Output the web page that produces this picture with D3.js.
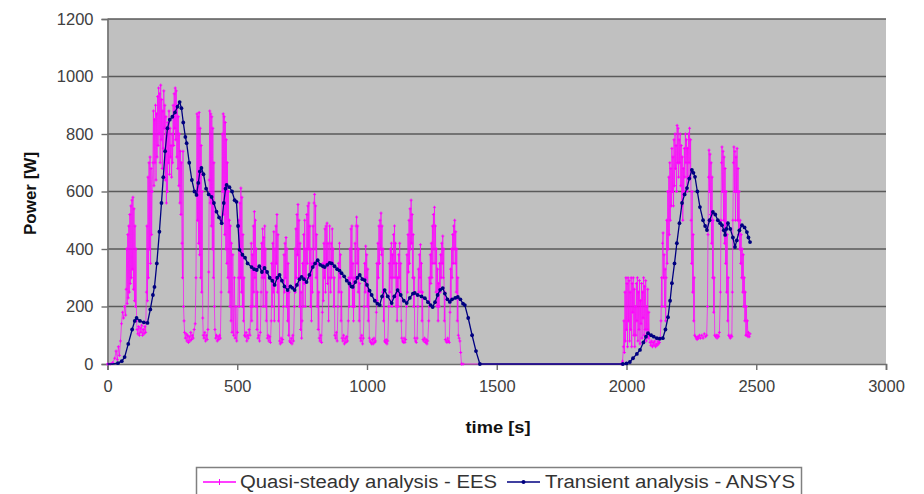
<!DOCTYPE html>
<html>
<head>
<meta charset="utf-8">
<script src="https://cdn.jsdelivr.net/npm/d3@7"></script>
<style>
  html, body { margin: 0; padding: 0; background: #ffffff; }
  svg { display: block; }
</style>
</head>
<body>
<svg id="chart" width="924" height="494"></svg>
<script>
// ---------------- DATA ----------------
const xTicks = [0, 500, 1000, 1500, 2000, 2500, 3000];
const yTicks = [0, 200, 400, 600, 800, 1000, 1200];
const xTitle = "time [s]";
const yTitle = "Power [W]";
const seriesNames = ["Quasi-steady analysis - EES", "Transient analysis - ANSYS"];

// Quasi-steady analysis - EES : [time s, power W]
const eesSeries = [
[0,0],[10,0],[20,5],[28,20],[33,45],[38,15],[42,60],[46,30],[50,80],[54,140],[58,180],[62,160],[66,200],[70,170],
[72,260],[74,400],[76,210],[78,450],[80,230],[82,480],[84,250],[86,520],[88,280],[90,550],[92,300],[94,570],[96,330],[98,580],[100,260],[102,540],[104,220],[106,480],[108,200],[110,400],[112,150],
[114,120],[117,105],[120,130],[123,100],[126,125],[129,110],[132,135],[135,100],[138,120],[141,105],[144,130],[147,110],
[150,250],[152,480],[154,220],[156,650],[158,300],[160,700],[162,400],[164,720],[166,350],[168,680],[170,450],[172,600],
[175,700],[177,880],[179,620],[181,850],[183,700],[185,900],[187,640],[189,870],[191,720],[193,930],[195,760],[197,960],[199,800],[201,940],[203,700],[205,970],[207,780],[209,920],[211,680],[213,880],[215,750],[217,950],[219,820],[221,900],[223,640],[225,860],[227,560],[229,800],[231,600],[233,840],[235,700],[237,880],[239,660],[241,820],[243,720],[245,760],[247,650],[249,800],[251,700],[253,900],[255,760],[257,940],[259,820],[261,960],[263,780],[265,950],[267,720],[269,900],[271,680],[273,860],[275,620],[277,800],[279,560],[281,740],[283,520],[285,700],
[287,420],[289,300],[291,740],[293,200],[295,150],[297,110],[300,90],
[303,105],[306,80],[309,100],[312,75],[315,95],[318,80],[321,110],[324,85],[327,100],[330,90],[334,120],[338,140],
[341,300],[343,600],[345,870],[347,500],[349,860],[351,420],[353,875],[355,380],[357,820],[359,300],[361,760],[363,250],[365,600],[367,160],[369,100],
[372,90],[375,110],[378,80],[381,100],[384,85],[387,120],
[390,320],[392,640],[394,880],[396,560],[398,870],[400,480],[402,860],[404,400],[406,820],[408,300],[410,700],[412,200],[414,120],
[417,90],[420,100],[423,80],[426,95],[429,85],[432,100],[435,90],
[438,250],[440,500],[442,800],[444,600],[446,870],[448,520],[450,860],[452,450],[454,840],[456,400],[458,780],[460,350],[462,700],[464,300],[466,600],[468,250],[470,500],
[472,200],[474,480],[476,150],[478,420],[480,110],[483,380],[486,100],[489,300],[492,90],[495,200],[498,80],[501,110],
[504,300],[506,500],[508,200],[510,560],[512,300],[514,612],[516,250],[518,580],[520,200],[522,450],[524,150],[526,300],[528,100],
[531,95],[534,110],[537,80],[540,100],[543,90],[546,120],[549,100],
[552,200],[554,420],[556,150],[558,380],[560,200],[562,480],[564,250],[566,530],[568,300],[570,500],[572,200],[574,400],[576,120],[578,250],[580,90],
[583,100],[586,80],[589,110],
[592,250],[594,420],[596,300],[598,470],[600,200],[602,440],[604,300],[606,480],[608,200],[610,400],[612,150],[614,250],[616,90],
[619,100],[622,80],[625,95],[628,75],
[631,150],[633,350],[635,200],[637,420],[639,250],[641,460],[643,150],[645,400],[647,300],[649,480],[651,350],[653,520],[655,250],[657,450],[659,150],[661,300],[663,80],
[666,70],[669,90],[672,75],[675,85],
[678,200],[680,380],[682,250],[684,420],[686,300],[688,440],[690,200],[692,400],[694,150],[696,350],[698,100],[700,250],[702,80],
[705,75],[708,90],[711,70],[714,100],[717,80],
[720,200],[722,400],[724,250],[726,470],[728,300],[730,520],[732,380],[734,555],[736,300],[738,500],[740,200],[742,420],[744,120],[746,250],[748,90],
[750,150],[752,350],[754,200],[756,450],[758,280],[760,500],[762,200],[764,400],[766,300],[768,520],[770,350],[772,550],[774,400],[776,560],[778,300],[780,480],[782,200],[784,400],[786,150],[788,350],[790,250],[792,480],[794,350],[796,560],[798,590],[800,400],[802,550],[804,300],[806,450],[808,200],[810,350],[812,120],[814,250],[816,90],
[819,80],[822,100],[825,75],
[828,180],[830,350],[832,220],[834,420],[836,300],[838,470],[840,250],[842,480],[844,350],[846,490],[848,280],[850,420],[852,150],[854,300],[856,480],[858,350],[860,250],[862,420],[864,300],[866,470],[868,350],[870,400],[872,200],[874,300],[876,100],
[879,90],[882,110],[885,80],
[888,200],[890,350],[892,250],[894,420],[896,300],[898,380],[900,150],[902,250],[904,90],
[907,80],[910,100],[913,70],[916,90],[919,75],[922,95],[925,80],
[928,150],[930,300],[932,200],[934,400],[936,280],[938,470],[940,300],[942,480],[944,200],[946,350],[948,150],[950,300],[952,200],[954,420],[956,300],[958,480],[960,511],[962,350],[964,480],[966,250],[968,400],[970,150],[972,280],[974,90],
[977,80],[980,100],[983,70],[986,90],
[989,200],[991,350],[993,250],[995,410],[997,300],[999,380],[1001,200],[1003,330],[1005,150],[1007,250],[1009,90],[1012,80],[1015,75],
[1018,70],[1021,85],[1024,70],[1027,90],[1030,75],[1033,80],
[1036,180],[1038,350],[1040,220],[1042,420],[1044,300],[1046,480],[1048,350],[1050,500],[1052,400],[1054,525],[1056,380],[1058,480],[1060,250],[1062,400],[1064,150],[1066,250],[1068,80],
[1071,75],[1074,85],[1077,70],[1080,80],
[1084,200],[1086,350],[1088,250],[1090,400],[1092,300],[1094,420],[1096,200],[1098,380],[1100,300],[1102,450],[1104,350],[1106,480],[1108,300],[1110,420],[1112,200],[1114,350],[1116,150],[1118,300],[1120,200],[1122,380],[1124,300],[1126,420],[1128,250],[1130,350],[1132,150],[1134,90],
[1137,80],[1140,75],[1143,90],[1146,75],[1149,85],
[1152,200],[1154,380],[1156,250],[1158,450],[1160,320],[1162,500],[1164,350],[1166,540],[1168,400],[1170,570],[1172,420],[1174,520],[1176,300],[1178,450],[1180,200],[1182,300],[1184,90],
[1187,80],[1190,75],[1193,90],
[1196,200],[1198,330],[1200,250],[1202,380],[1204,300],[1206,415],[1208,250],[1210,350],[1212,150],[1214,250],[1216,85],
[1219,80],[1222,90],[1225,75],[1228,85],[1231,70],[1234,80],
[1238,150],[1240,300],[1242,200],[1244,380],[1246,280],[1248,420],[1250,300],[1252,480],[1254,350],[1256,520],[1258,400],[1260,545],[1262,350],[1264,480],[1266,250],[1268,400],[1270,200],[1272,330],[1274,150],[1276,280],[1278,200],[1280,350],[1282,250],[1284,380],[1286,300],[1288,420],[1290,350],[1292,445],[1294,300],[1296,400],[1298,150],[1300,250],[1302,85],
[1305,80],[1308,75],[1311,90],[1314,80],[1317,75],
[1320,180],[1322,330],[1324,220],[1326,400],[1328,300],[1330,450],[1332,350],[1334,480],[1336,400],[1338,500],[1340,350],[1342,460],[1344,250],[1346,400],[1348,150],[1350,300],[1352,100],[1355,90],[1358,80],[1361,40],[1364,0],
[1370,0],[1980,0],
[1985,10],[1988,60],[1990,150],[1992,40],[1994,250],[1996,80],[1998,300],[2000,120],[2002,280],[2004,60],[2006,300],[2008,150],[2010,290],[2012,80],[2014,250],[2016,120],[2018,300],[2020,60],[2022,280],[2024,180],[2026,300],[2028,100],[2030,260],[2032,60],[2034,200],[2036,100],[2038,280],[2040,150],[2042,300],[2044,80],[2046,250],[2048,120],[2050,290],[2052,70],[2054,220],[2056,140],[2058,280],[2060,90],[2062,250],[2064,160],[2066,300],[2068,100],[2070,270],[2072,120],[2074,290],[2076,80],[2078,200],[2080,120],[2082,260],[2084,90],[2086,180],[2088,100],
[2091,75],[2094,65],[2097,80],[2100,60],[2103,75],[2106,65],[2109,80],[2112,60],[2115,70],[2118,65],[2121,80],[2124,70],[2127,75],[2130,90],
[2133,150],[2135,300],[2137,200],[2139,420],[2141,456],[2143,300],[2145,380],[2147,200],[2149,330],[2151,150],
[2153,300],[2155,500],[2157,350],[2159,600],[2161,400],[2163,650],[2165,450],[2167,700],[2169,500],[2171,680],[2173,550],[2175,750],[2177,600],[2179,720],[2181,550],[2183,780],[2185,620],[2187,800],[2189,680],[2191,760],[2193,600],[2195,830],[2197,700],[2199,820],[2201,650],[2203,780],[2205,700],[2207,800],[2209,620],[2211,760],[2213,550],[2215,720],[2217,500],[2219,680],[2221,600],[2223,750],[2225,650],[2227,800],[2229,700],[2231,780],[2233,600],[2235,750],[2237,650],[2239,800],[2241,700],[2243,820],[2245,650],[2247,780],[2249,500],
[2251,350],[2253,600],[2255,250],[2257,450],[2259,150],[2261,300],[2263,100],[2266,95],[2269,90],[2272,85],[2275,95],[2278,90],[2281,100],[2285,90],[2290,100],[2295,90],[2300,105],[2305,95],[2309,100],
[2312,200],[2314,450],[2316,650],[2318,744],[2320,600],[2322,730],[2324,520],[2326,700],[2328,420],[2330,650],[2332,300],[2334,500],[2336,180],[2338,300],[2340,100],
[2343,95],[2346,100],[2349,90],[2352,100],[2355,95],[2358,110],
[2362,250],[2364,500],[2366,700],[2368,755],[2370,600],[2372,740],[2374,500],[2376,720],[2378,420],[2380,680],[2382,350],[2384,600],[2386,250],[2388,450],[2390,150],[2392,300],[2394,100],
[2397,95],[2400,90],[2403,100],[2406,95],
[2408,250],[2410,500],[2412,700],[2414,755],[2416,600],[2418,740],[2420,500],[2422,720],[2424,600],[2426,750],[2428,500],[2430,680],[2432,450],[2434,600],[2436,400],[2438,500],[2440,350],[2442,450],[2444,300],[2446,400],[2448,250],[2450,380],[2452,200],[2454,300],[2456,150],[2458,250],[2460,100],[2462,200],[2464,100],[2466,150],[2468,95],[2470,110],[2473,95],[2476,105]
];

// Transient analysis - ANSYS : [time s, power W]
const ansysSeries = [
[0,0],[20,0],[40,3],[55,10],[66,24],[80,70],[95,120],[105,150],[112,160],[125,150],[140,145],[154,143],[165,190],[175,240],[181,268],[190,350],[200,460],[208,560],[215,650],[222,740],[231,820],[240,850],[250,860],[260,875],[270,895],[278,911],[285,890],[292,840],[300,790],[305,768],[315,700],[325,640],[335,600],[343,588],[350,630],[356,670],[362,682],[370,660],[380,610],[390,590],[401,581],[410,560],[420,530],[430,510],[440,490],[448,560],[455,610],[459,623],[470,615],[480,600],[490,570],[497,564],[503,480],[509,397],[520,380],[530,370],[540,350],[555,337],[565,330],[575,327],[585,340],[595,320],[605,334],[615,320],[625,300],[635,290],[644,275],[654,300],[663,310],[672,290],[682,270],[694,257],[705,270],[712,265],[721,257],[730,275],[740,295],[748,303],[757,295],[767,285],[778,310],[791,337],[800,350],[810,361],[820,345],[830,340],[837,337],[847,345],[856,352],[864,350],[875,340],[885,330],[894,325],[902,316],[912,305],[922,290],[932,280],[940,270],[945,268],[955,285],[963,300],[972,310],[982,295],[991,292],[1000,275],[1010,255],[1018,240],[1030,220],[1040,210],[1049,205],[1058,235],[1068,257],[1080,235],[1095,212],[1105,235],[1118,257],[1130,240],[1142,220],[1153,212],[1165,230],[1177,245],[1184,247],[1195,240],[1210,235],[1223,229],[1235,215],[1245,205],[1253,198],[1262,215],[1272,240],[1282,258],[1292,264],[1300,245],[1310,225],[1319,216],[1328,225],[1340,230],[1350,233],[1360,225],[1370,210],[1377,205],[1390,160],[1405,100],[1420,45],[1435,0],
[1986,0],[2000,2],[2013,7],[2025,20],[2040,35],[2052,49],[2065,75],[2075,95],[2083,107],[2095,100],[2105,95],[2117,90],[2128,88],[2140,90],[2150,120],[2160,163],[2168,220],[2175,281],[2185,350],[2194,420],[2204,490],[2214,560],[2224,590],[2233,612],[2242,645],[2252,675],[2258,665],[2264,651],[2273,600],[2283,546],[2295,500],[2303,480],[2310,466],[2320,500],[2333,529],[2342,520],[2352,500],[2361,490],[2368,483],[2375,465],[2380,449],[2385,470],[2391,490],[2400,470],[2410,440],[2418,407],[2425,430],[2435,465],[2445,483],[2455,475],[2464,459],[2470,440],[2476,424]
];

// ---------------- CHART ----------------
const svg = d3.select("#chart");
const plot = { left: 107.5, right: 886, top: 19, bottom: 364 };

const x = d3.scaleLinear().domain([0, 3000]).range([plot.left, plot.right]);
const y = d3.scaleLinear().domain([0, 1200]).range([plot.bottom, plot.top]);

const colEES = "#ff00ff";
const colANSYS = "#000080";
const fontFam = "Arial, 'Liberation Sans', Helvetica, sans-serif";

// plot background
svg.append("rect")
  .attr("x", plot.left).attr("y", plot.top)
  .attr("width", plot.right - plot.left).attr("height", plot.bottom - plot.top)
  .attr("fill", "#c0c0c0");

// gridlines
svg.append("g")
  .selectAll("line")
  .data(yTicks.filter(d => d > 0))
  .join("line")
  .attr("x1", plot.left).attr("x2", plot.right)
  .attr("y1", d => y(d)).attr("y2", d => y(d))
  .attr("stroke", "#5a5a5a").attr("stroke-width", 1.6);

// y axis
const yAxis = svg.append("g")
  .attr("transform", `translate(${plot.left},0)`)
  .call(d3.axisLeft(y).tickValues(yTicks).tickSize(6).tickPadding(8).tickFormat(d3.format("d")));
yAxis.select(".domain").attr("stroke", "#6e6e6e").attr("stroke-width", 1.6);
yAxis.selectAll(".tick line").attr("stroke", "#6e6e6e").attr("stroke-width", 1.4);
yAxis.selectAll(".tick text").attr("fill", "#404040").style("font-size", "16.5px").style("font-family", fontFam);

// x axis
const xAxis = svg.append("g")
  .attr("transform", `translate(0,${plot.bottom})`)
  .call(d3.axisBottom(x).tickValues(xTicks).tickSize(6).tickPadding(10).tickFormat(d3.format("d")));
xAxis.select(".domain").attr("stroke", "#6e6e6e").attr("stroke-width", 1.6);
xAxis.selectAll(".tick line").attr("stroke", "#6e6e6e").attr("stroke-width", 1.4);
xAxis.selectAll(".tick text").attr("fill", "#404040").style("font-size", "16.5px").style("font-family", fontFam);

// series
const line = d3.line().x(d => x(d[0])).y(d => y(d[1]));

const gEES = svg.append("g");
gEES.append("path")
  .datum(eesSeries)
  .attr("d", line)
  .attr("fill", "none")
  .attr("stroke", colEES)
  .attr("stroke-width", 0.9)
  .attr("stroke-opacity", 0.75);
gEES.selectAll("path.mk")
  .data(eesSeries)
  .join("path")
  .attr("class", "mk")
  .attr("d", d => `M${x(d[0]) - 1.5},${y(d[1])}h3M${x(d[0])},${y(d[1]) - 1.5}v3`)
  .attr("stroke", colEES)
  .attr("stroke-width", 1);

const gANSYS = svg.append("g");
gANSYS.append("path")
  .datum(ansysSeries)
  .attr("d", line)
  .attr("fill", "none")
  .attr("stroke", colANSYS)
  .attr("stroke-width", 1.3);
gANSYS.selectAll("circle")
  .data(ansysSeries.filter(d => d[1] > 0 || d[0] === 1435 || d[0] === 1986))
  .join("circle")
  .attr("cx", d => x(d[0])).attr("cy", d => y(d[1]))
  .attr("r", 1.9)
  .attr("fill", colANSYS);

// axis titles
svg.append("text")
  .attr("x", 498).attr("y", 433)
  .attr("text-anchor", "middle")
  .attr("textLength", 65).attr("lengthAdjust", "spacingAndGlyphs")
  .style("font-family", fontFam).style("font-size", "17px").style("font-weight", "bold")
  .attr("fill", "#111")
  .text(xTitle);

svg.append("text")
  .attr("transform", `translate(36,${(plot.top + plot.bottom) / 2 + 2}) rotate(-90)`)
  .attr("text-anchor", "middle")
  .style("font-family", fontFam).style("font-size", "17px").style("font-weight", "bold")
  .attr("fill", "#111")
  .text(yTitle);

// legend
const leg = svg.append("g");
leg.append("rect")
  .attr("x", 196.5).attr("y", 467.5)
  .attr("width", 605).attr("height", 40)
  .attr("fill", "#ffffff").attr("stroke", "#808080").attr("stroke-width", 1.5);

const legItems = [
  { name: seriesNames[0], color: colEES, x0: 203, tx: 240, w: 257, mk: "plus" },
  { name: seriesNames[1], color: colANSYS, x0: 507, tx: 545, w: 250, mk: "dot" }
];
legItems.forEach(it => {
  leg.append("line")
    .attr("x1", it.x0).attr("x2", it.x0 + 33)
    .attr("y1", 482).attr("y2", 482)
    .attr("stroke", it.color).attr("stroke-width", 1.3);
  if (it.mk === "plus") {
    leg.append("path")
      .attr("d", `M${it.x0 + 16.5},479v6`)
      .attr("stroke", it.color).attr("stroke-width", 1);
  } else {
    leg.append("circle")
      .attr("cx", it.x0 + 16.5).attr("cy", 482).attr("r", 2)
      .attr("fill", it.color);
  }
  leg.append("text")
    .attr("x", it.tx).attr("y", 488)
    .attr("textLength", it.w).attr("lengthAdjust", "spacingAndGlyphs")
    .style("font-family", fontFam).style("font-size", "18px")
    .attr("fill", "#333")
    .text(it.name);
});
</script>
</body>
</html>
